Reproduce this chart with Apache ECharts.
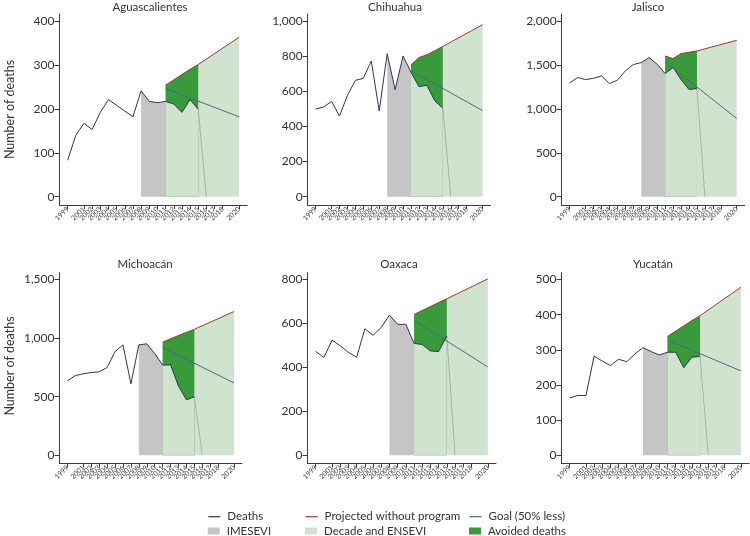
<!DOCTYPE html>
<html><head><meta charset="utf-8">
<script src="https://cdn.jsdelivr.net/npm/echarts@6/dist/echarts.min.js"></script>
<style>html,body{margin:0;padding:0;background:#fff}#c{width:750px;height:536px}</style>
</head><body><div id="c"></div><script>
// ---- data ----
const tickYears = [1999,2000,2001,2002,2003,2004,2005,2006,2007,2008,2009,2010,2011,2012,2013,2014,2015,2016,2017,2018,2019,2020];
const deathYears = [1999,2000,2001,2002,2003,2004,2005,2006,2007,2008,2009,2010,2011,2012,2013,2014,2015];
const imeseviYears = [2008,2009,2010,2011];
const avoidedYears = [2011,2012,2013,2014,2015];
const projectedYears = [2011,2012,2013,2014,2015,2020];
const goalYears = [2011,2020];
const dropYears = [2015,2016];

const states = ['Aguascalientes','Chihuahua','Jalisco','Michoacán','Oaxaca','Yucatán'];

const deathsAguascalientes = [83,140,167,153,192,221,208,195,182,241,217,214,217,211,192,221,199];
const deathsChihuahua      = [499,510,543,459,577,662,674,772,488,814,609,801,708,626,634,545,504];
const deathsJalisco        = [1295,1356,1333,1348,1375,1288,1326,1432,1504,1527,1583,1508,1401,1470,1333,1220,1231];
const deathsMichoacan      = [635,680,695,706,712,749,885,942,609,942,951,868,769,771,589,473,498];
const deathsOaxaca         = [472,445,524,498,468,446,576,546,582,638,596,596,509,504,475,472,542];
const deathsYucatan        = [163,170,170,282,268,255,273,266,288,306,295,285,293,293,249,279,281];

const projectedAguascalientes = [254,266,278,290,301,363];
const projectedChihuahua      = [750,792,808,831,855,979];
const projectedJalisco        = [1602,1572,1629,1644,1659,1780];
const projectedMichoacan      = [965,994,1022,1049,1075,1227];
const projectedOaxaca         = [641,659,677,695,712,803];
const projectedYucatan        = [338,353,368,383,397,478];

const goalAguascalientes = [246,182];
const goalChihuahua      = [717,490];
const goalJalisco        = [1534,890];
const goalMichoacan      = [919,617];
const goalOaxaca         = [614,402];
const goalYucatan        = [328,240];

const dropValue = 0; // value the thin line falls to in 2016

const yTicksAguascalientes = [0,100,200,300,400];
const yTicksChihuahua      = [0,200,400,600,800,1000];
const yTicksJalisco        = [0,500,1000,1500,2000];
const yTicksMichoacan      = [0,500,1000,1500];
const yTicksOaxaca         = [0,200,400,600,800];
const yTicksYucatan        = [0,100,200,300,400,500];

const deathsList = [deathsAguascalientes,deathsChihuahua,deathsJalisco,deathsMichoacan,deathsOaxaca,deathsYucatan];
const projList = [projectedAguascalientes,projectedChihuahua,projectedJalisco,projectedMichoacan,projectedOaxaca,projectedYucatan];
const goalList = [goalAguascalientes,goalChihuahua,goalJalisco,goalMichoacan,goalOaxaca,goalYucatan];
const tickList = [yTicksAguascalientes,yTicksChihuahua,yTicksJalisco,yTicksMichoacan,yTicksOaxaca,yTicksYucatan];

// ---- layout ----
const FONT = 'Lato';
const grids = [
  {left:59.5, top:14, width:187.7, height:191},
  {left:307.7, top:14, width:182.8, height:191},
  {left:561.7, top:14, width:183, height:191},
  {left:59.5, top:272.5, width:182.5, height:191},
  {left:307.5, top:272.5, width:188.5, height:191},
  {left:561.5, top:272.5, width:187.5, height:191}
];
const titleX = [150,395,648,145,399,653];
const titleTop = [1,1,1,258,258,258];

const C = {
  deaths:'#2d3552', proj:'#9a3b36', goal:'#4b6a86',
  imesevi:'#c5c5c5', decade:'#cfe3cf', avoided:'#389a3a', drop:'#8ea58e', axis:'#3c3c3c', text:'#333'
};

const pairs = (xs, ys) => xs.map((x,i)=>[x, ys[i]]);
const pick = (years, vals, sel) => sel.map(y => vals[years.indexOf(y)]);

const xAxes = [], yAxes = [], series = [], titles = [];
states.forEach((st, i) => {
  const M = tickList[i][tickList[i].length-1];
  xAxes.push({
    type:'value', gridIndex:i, min:1998, max:2021,
    splitLine:{show:false},
    axisLine:{onZero:false, lineStyle:{color:C.axis, width:1}},
    axisTick:{customValues:tickYears, length:4, lineStyle:{color:C.axis}},
    axisLabel:{customValues:tickYears, rotate:45, fontSize:7, margin:3, color:'#444', fontFamily:FONT,
      hideOverlap:false, showMinLabel:true, showMaxLabel:true, formatter:v=>String(v)}
  });
  yAxes.push({
    type:'value', gridIndex:i, min:-M*8.3/175.7, max:M*(1+7/175.7),
    splitLine:{show:false},
    axisLine:{show:true, lineStyle:{color:C.axis, width:1}},
    axisTick:{show:true, customValues:tickList[i], length:5, lineStyle:{color:C.axis}},
    axisLabel:{customValues:tickList[i], fontSize:12, margin:5, color:C.text, fontFamily:FONT,
      formatter:v=>Number(v).toLocaleString('en-US')}
  });
  titles.push({text:st, left:titleX[i], top:titleTop[i], textAlign:'center', padding:0,
    textStyle:{fontSize:11.5, fontWeight:'normal', color:C.text, fontFamily:FONT}});

  const d = deathsList[i], p = projList[i], g = goalList[i];
  const common = {type:'line', xAxisIndex:i, yAxisIndex:i, symbol:'none', animation:false, silent:true};
  // IMESEVI area
  series.push(Object.assign({}, common, {name:'IMESEVI', z:1,
    data:pairs(imeseviYears, pick(deathYears, d, imeseviYears)),
    itemStyle:{color:C.imesevi}, lineStyle:{width:0, color:C.imesevi},
    areaStyle:{color:C.imesevi, opacity:1}}));
  // Decade and ENSEVI area (under projected)
  series.push(Object.assign({}, common, {name:'Decade and ENSEVI', z:1,
    data:pairs(projectedYears, p),
    itemStyle:{color:C.decade}, lineStyle:{width:0, color:C.decade},
    areaStyle:{color:C.decade, opacity:1}}));
  // Avoided deaths: dark green under projected 2011-2015 ...
  series.push(Object.assign({}, common, {name:'Avoided deaths', z:2,
    data:pairs(avoidedYears, pick(projectedYears, p, avoidedYears)),
    itemStyle:{color:C.avoided}, lineStyle:{width:0, color:C.avoided},
    areaStyle:{color:C.avoided, opacity:1}}));
  // ... covered below the deaths line by the decade colour
  series.push(Object.assign({}, common, {name:'_under'+i, z:3,
    data:pairs(avoidedYears, pick(deathYears, d, avoidedYears)),
    itemStyle:{color:C.decade}, lineStyle:{width:0, color:C.decade},
    areaStyle:{color:C.decade, opacity:1}}));
  // thin drop line
  series.push(Object.assign({}, common, {name:'_drop'+i, z:4,
    data:pairs(dropYears, [d[d.length-1], dropValue]),
    lineStyle:{width:0.7, color:C.drop}}));
  // Deaths
  series.push(Object.assign({}, common, {name:'Deaths', z:5,
    data:pairs(deathYears, d), itemStyle:{color:C.deaths}, lineStyle:{width:1, color:C.deaths}}));
  // Projected
  series.push(Object.assign({}, common, {name:'Projected without program', z:5,
    data:pairs(projectedYears, p), itemStyle:{color:C.proj}, lineStyle:{width:1, color:C.proj}}));
  // Goal
  series.push(Object.assign({}, common, {name:'Goal (50% less)', z:5,
    data:pairs(goalYears, g), itemStyle:{color:C.goal}, lineStyle:{width:1, color:C.goal}}));
});

const legendBase = {orient:'horizontal', padding:0, itemWidth:12, itemHeight:7,
  selectedMode:false,
  textStyle:{fontSize:11.5, lineHeight:12, color:C.text, fontFamily:FONT, padding:[0,0,0,2]}};
const legendItems = [
  {left:207.7, top:510.7, item:'Deaths', line:true},
  {left:305, top:510.7, item:'Projected without program', line:true},
  {left:469, top:510.7, item:'Goal (50% less)', line:true},
  {left:207.7, top:525, item:{name:'IMESEVI', icon:'rect'}},
  {left:305, top:525, item:{name:'Decade and ENSEVI', icon:'rect'}},
  {left:469, top:525, item:{name:'Avoided deaths', icon:'rect'}}
];
const legends = legendItems.map(l => Object.assign({}, legendBase, {
  left:l.left, top:l.top, data:[l.item],
  itemStyle: l.line ? {opacity:0, borderWidth:0} : {borderWidth:0},
  lineStyle: l.line ? {width:1.2} : undefined
}));

const chart = echarts.init(document.getElementById('c'), null, {renderer:'canvas'});
chart.setOption({
  animation:false,
  backgroundColor:'#fff',
  title:titles,
  grid:grids.map(g=>Object.assign({containLabel:false}, g)),
  xAxis:xAxes, yAxis:yAxes, series:series, legend:legends,
  graphic:[
    {type:'text', x:9.5, y:109.5, rotation:Math.PI/2, style:{text:'Number of deaths', fontSize:12.5, fontFamily:FONT, fill:C.text, align:'center', verticalAlign:'middle'}},
    {type:'text', x:9.5, y:366, rotation:Math.PI/2, style:{text:'Number of deaths', fontSize:12.5, fontFamily:FONT, fill:C.text, align:'center', verticalAlign:'middle'}}
  ]
});
</script></body></html>
